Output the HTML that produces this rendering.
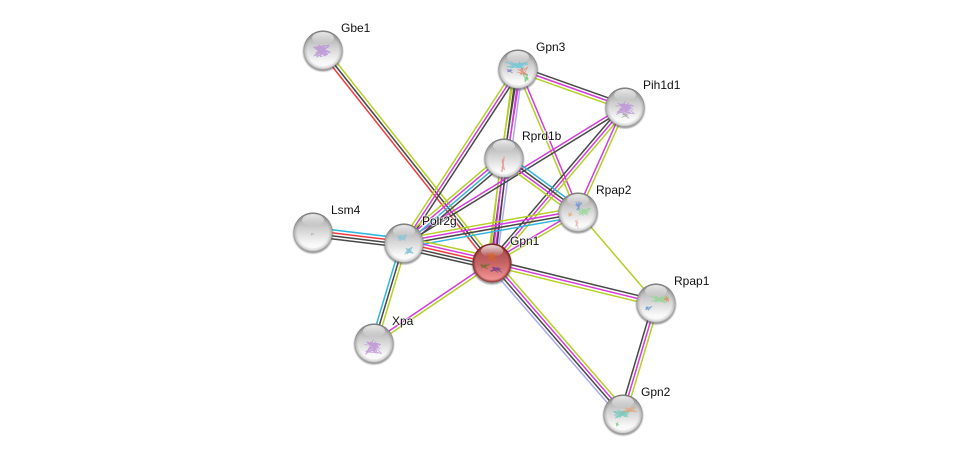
<!DOCTYPE html>
<html><head><meta charset="utf-8"><style>
html,body{margin:0;padding:0;background:#fff;width:976px;height:459px;overflow:hidden}
svg{display:block}
text{font-family:"Liberation Sans",sans-serif;font-size:12px;fill:#111;stroke:#fff;stroke-width:2px;stroke-opacity:.7;paint-order:stroke}
</style></head><body>
<svg id="s" width="976" height="459" viewBox="0 0 976 459" xmlns="http://www.w3.org/2000/svg">
<defs>
<linearGradient id="g" x1="0" y1="0" x2="0" y2="1"><stop offset="0" stop-color="#9c9c9c"/><stop offset=".4" stop-color="#cfcfcf"/><stop offset=".8" stop-color="#f8f8f8"/><stop offset="1" stop-color="#fdfdfd"/></linearGradient>
<linearGradient id="r" x1="0" y1="0" x2="0" y2="1"><stop offset="0" stop-color="#a04444"/><stop offset=".5" stop-color="#c46464"/><stop offset=".9" stop-color="#f09090"/><stop offset="1" stop-color="#e88888"/></linearGradient>
<linearGradient id="h" x1="0" y1="0" x2="0" y2="1"><stop offset="0" stop-color="#fff" stop-opacity=".8"/><stop offset="1" stop-color="#fff" stop-opacity="0"/></linearGradient>
<radialGradient id="e" cx=".5" cy=".5" r=".5"><stop offset=".8" stop-color="#000" stop-opacity="0"/><stop offset=".95" stop-color="#000" stop-opacity=".16"/><stop offset="1" stop-color="#000" stop-opacity=".38"/></radialGradient>
<radialGradient id="er" cx=".5" cy=".5" r=".5"><stop offset=".85" stop-color="#500" stop-opacity="0"/><stop offset="1" stop-color="#500" stop-opacity=".7"/></radialGradient>
<filter id="b" x="-20%" y="-20%" width="140%" height="140%"><feGaussianBlur stdDeviation=".9"/></filter>
</defs>
<g id="edges"></g>
<g id="nodes"></g>
<g id="art" fill="none" stroke-width=".7" stroke-linejoin="round"></g>
<text x="341" y="32">Gbe1</text>
<text x="536" y="51">Gpn3</text>
<text x="643" y="89">Pih1d1</text>
<text x="522" y="140">Rprd1b</text>
<text x="596" y="194">Rpap2</text>
<text x="331" y="214">Lsm4</text>
<text x="422" y="225">Polr2g</text>
<text x="510" y="245">Gpn1</text>
<text x="674" y="285">Rpap1</text>
<text x="392" y="325">Xpa</text>
<text x="641" y="396">Gpn2</text>
</svg>
<script>
var N={Gbe1:[323,50],Gpn3:[518,69],Pih:[625,107],Rprd:[504,158],Rpap2:[578,212],Lsm4:[313,232],Polr:[404,243],Gpn1:[492,263],Rpap1:[656,303],Xpa:[374,343],Gpn2:[623,414]};
var C={r:"#f5393c",k:"#474747",l:"#b5cf24",m:"#d63bdc",c:"#2fb6dc",b:"#aaaaf6"};
var E=[["Gbe1","Gpn1","rkl"],["Polr","Gpn3","kml"],["Gpn1","Gpn3","bmkl"],["Rprd","Gpn3","mkl"],["Gpn1","Rprd","kml"],
["Gpn3","Pih","lmk"],["Gpn3","Rpap2","lm"],["Polr","Pih","km"],["Gpn1","Pih","lmk"],["Rpap2","Pih","lm"],
["Rprd","Rpap2","lmkc"],["Polr","Rprd","kcml"],["Polr","Rpap2","ckml"],["Gpn1","Rpap2","lm"],["Rpap2","Rpap1","l"],
["Lsm4","Polr","kkrc"],["Polr","Gpn1","kkrml"],["Xpa","Polr","lkc"],["Xpa","Gpn1","lm"],
["Gpn1","Rpap1","lmk"],["Gpn1","Gpn2","bkml"],["Gpn2","Rpap1","lmk"]];
var ns="http://www.w3.org/2000/svg",eg=document.getElementById("edges"),ng=document.getElementById("nodes"),ag=document.getElementById("art");
function el(p,t,a){var e=document.createElementNS(ns,t);for(var k in a)e.setAttribute(k,a[k]);p.appendChild(e);return e}
E.forEach(function(d){var A=N[d[0]],B=N[d[1]],x=B[0]-A[0],y=B[1]-A[1],L=Math.hypot(x,y),nx=y/L,ny=-x/L,n=d[2].length,s=3;
for(var i=0;i<n;i++){var o=(i-(n-1)/2)*s;el(eg,"line",{x1:A[0]+nx*o,y1:A[1]+ny*o,x2:B[0]+nx*o,y2:B[1]+ny*o,stroke:C[d[2][i]],"stroke-width":1.5})}});
for(var k in N){var p=N[k],x=p[0],y=p[1],red=k=="Gpn1";
el(ng,"circle",{cx:x,cy:y+1.5,r:20,fill:"#555",opacity:.6,filter:"url(#b)"});
el(ng,"circle",{cx:x,cy:y,r:19.5,fill:red?"url(#r)":"url(#g)"});
el(ng,"circle",{cx:x,cy:y,r:19.5,fill:red?"url(#er)":"url(#e)"});
el(ng,"ellipse",{cx:x,cy:y-12,rx:11,ry:6,fill:"url(#h)"});}
function sq(cx,cy,w,h,col,seed,n){var d="",a=seed*1.7,px=cx,py=cy;for(var i=0;i<n;i++){a+=2.399+(i%3)*.6;px=cx+Math.cos(a)*w/2*(.45+.55*((i*7+seed)%5)/4);py=cy+Math.sin(a*1.3)*h/2*(.45+.55*((i*3+seed)%4)/3);d+=(i?"L":"M")+px.toFixed(1)+" "+py.toFixed(1)}el(ag,"path",{d:d,stroke:col,opacity:.75})}
sq(322,51,18,16,"#b58ad6",3,45);
sq(517,65,24,10,"#5fc4d8",5,18);sq(523,71,14,14,"#e07a5f",7,14);sq(526,78,8,12,"#62c46a",9,12);sq(510,71,8,5,"#6a78c8",2,8);
sq(625,108,20,16,"#b58ad6",4,32);sq(625,116,8,8,"#999",8,6);
sq(503,165,4,22,"#e08a8a",6,14);
sq(578,206,8,14,"#5a86d8",5,10);sq(584,212,16,10,"#8fd48f",3,14);sq(570,214,8,8,"#e0a060",9,7);sq(577,224,4,12,"#e0a0a0",2,6);
sq(313,234,12,4,"#aaa",7,5);
sq(402,238,12,8,"#7cc6da",3,16);sq(409,251,10,10,"#5fb6cc",6,14);
sq(492,257,14,12,"#d9641f",2,14);sq(484,266,12,6,"#6b6b2a",5,12);sq(496,270,12,8,"#6b3a8a",8,12);
sq(660,299,20,10,"#8ed68e",5,20);sq(667,299,8,8,"#e88060",3,8);sq(648,308,12,6,"#4a8ac8",7,10);
sq(373,347,18,18,"#b884d4",4,28);
sq(622,414,22,10,"#5fc4b8",3,20);sq(630,410,16,8,"#e8a070",6,14);sq(617,424,6,8,"#62c46a",9,6);
</script>
</body></html>
